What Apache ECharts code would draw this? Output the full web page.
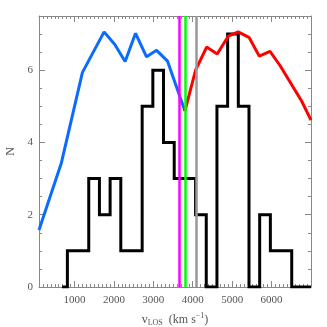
<!DOCTYPE html>
<html>
<head>
<meta charset="utf-8">
<script src="https://cdn.jsdelivr.net/npm/echarts@6/dist/echarts.min.js"></script>
<style>
  html, body { margin: 0; padding: 0; background: #fff; }
  #chart { width: 327px; height: 327px; }
</style>
</head>
<body>
<div id="chart"></div>
<script>
// histogram: left edge of each bin and its count (last value is the right end)
const histX = [685, 820, 1091, 1362, 1633, 1904, 2175, 2446, 2717, 2988, 3259, 3530,
  3801, 4072, 4343, 4614, 4885, 5156, 5427, 5698, 5969, 6240, 6511, 7000]
const histN = [0, 1, 1, 3, 2, 3, 1, 1, 5, 6, 4, 3, 3, 2, 0, 5, 7, 5, 0, 2, 1, 1, 0, 0]

// smooth curves (blue: low side, red: high side)
const blueV = [100, 669, 1202, 1751, 2023, 2285, 2549, 2828, 3082, 3361, 3801]
const blueN = [1.58, 3.44, 5.94, 7.06, 6.71, 6.24, 7.02, 6.37, 6.55, 6.25, 4.87]
const redV = [3801, 4073, 4352, 4621, 4900, 5155, 5434, 5688, 5960, 6214, 6765, 7000]
const redN = [4.87, 6.00, 6.64, 6.45, 6.94, 7.06, 6.90, 6.39, 6.52, 6.13, 5.14, 4.62]

// vertical markers
const markV = [3666, 3819, 4088]
const markColors = ['#ff00ff', '#00ff00', '#999999']

const zip = (xs, ys) => xs.map((x, i) => [x, ys[i]])

const chart = echarts.init(document.getElementById('chart'))

const axisGray = '#888'
const labelFont = { fontFamily: 'Liberation Serif', fontSize: 11, color: '#555' }

function xMajor (pos, labels) {
  return {
    type: 'value', position: pos, min: 100, max: 7000, splitNumber: 7,
    axisLine: { onZero: false, lineStyle: { color: axisGray, width: 1 } },
    axisTick: { inside: true, length: 6, lineStyle: { color: axisGray } },
    axisLabel: labels
      ? Object.assign({ margin: 8, showMinLabel: false, showMaxLabel: false, formatter: v => String(v) }, labelFont)
      : { show: false },
    splitLine: { show: false }
  }
}
function xMinor (pos) {
  return {
    type: 'value', position: pos, min: 100, max: 7000, interval: 100,
    axisLine: { show: false, onZero: false },
    axisTick: { inside: true, length: 3, interval: 0, lineStyle: { color: axisGray } },
    axisLabel: { show: false },
    splitLine: { show: false }
  }
}
function yMajor (pos, labels) {
  return {
    type: 'value', position: pos, min: 0, max: 7.5, interval: 2,
    axisLine: { show: true, onZero: false, lineStyle: { color: axisGray, width: 1 } },
    axisTick: { show: true, inside: true, length: 6, lineStyle: { color: axisGray } },
    axisLabel: labels ? Object.assign({ margin: 6, showMaxLabel: false }, labelFont) : { show: false },
    splitLine: { show: false }
  }
}
function yMinor (pos) {
  return {
    type: 'value', position: pos, min: 0, max: 7.5, interval: 0.5,
    axisLine: { show: false, onZero: false },
    axisTick: { show: true, inside: true, length: 3, interval: 0, lineStyle: { color: axisGray } },
    axisLabel: { show: false },
    splitLine: { show: false }
  }
}

const xBottom = xMajor('bottom', true)
xBottom.name = '{a|v}{b|LOS}{a|  (km s}{c|−1}{a|)}'
xBottom.nameLocation = 'middle'
xBottom.nameGap = 25
xBottom.nameTextStyle = {
  rich: {
    a: { fontFamily: 'Liberation Serif', fontSize: 12, color: '#555' },
    b: { fontFamily: 'Liberation Serif', fontSize: 8, color: '#555', padding: [7, 0, 0, 0] },
    c: { fontFamily: 'Liberation Serif', fontSize: 8, color: '#555', padding: [0, 0, 7, 0] }
  }
}

const yLeft = yMajor('left', true)
yLeft.name = 'N'
yLeft.nameLocation = 'middle'
yLeft.nameGap = 21
yLeft.nameTextStyle = { fontFamily: 'Liberation Serif', fontSize: 12, color: '#555' }

const option = {
  animation: false,
  backgroundColor: '#fff',
  grid: { left: 39, right: 16, top: 16, bottom: 40, containLabel: false, outerBoundsMode: 'none' },
  xAxis: [xBottom, xMajor('top', false), xMinor('bottom'), xMinor('top')],
  yAxis: [yLeft, yMajor('right', false), yMinor('left'), yMinor('right')],
  series: [
    {
      name: 'hist',
      type: 'line',
      step: 'end',
      symbol: 'none',
      data: zip(histX, histN),
      lineStyle: { color: '#000', width: 3, join: 'miter', cap: 'butt' },
      z: 2
    },
    {
      name: 'markers',
      type: 'line',
      data: [],
      markLine: {
        silent: true,
        symbol: 'none',
        label: { show: false },
        data: markV.map((v, i) => ({ xAxis: v, lineStyle: { color: markColors[i], width: 2.5, type: 'solid', opacity: 1 } }))
      },
      z: 3
    },
    {
      name: 'low',
      type: 'line',
      symbol: 'none',
      data: zip(blueV, blueN),
      lineStyle: { color: '#0a6cff', width: 3 },
      z: 4
    },
    {
      name: 'high',
      type: 'line',
      symbol: 'none',
      data: zip(redV, redN),
      lineStyle: { color: '#ff0000', width: 3 },
      z: 4
    }
  ]
}

chart.setOption(option)
</script>
</body>
</html>
